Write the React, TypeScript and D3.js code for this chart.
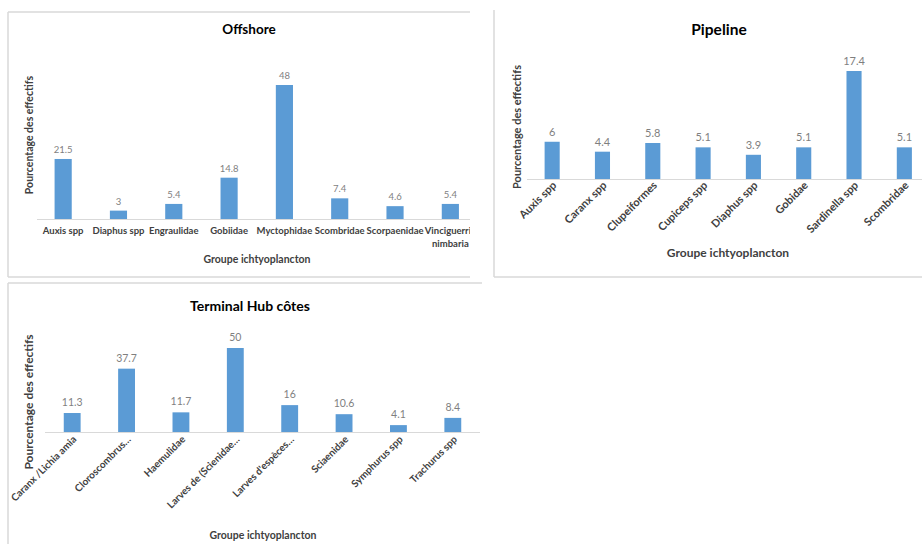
import React from "react";
import * as d3 from "d3";

const offshoreCategories = ["Auxis spp", "Diaphus spp", "Engraulidae", "Gobiidae", "Myctophidae", "Scombridae", "Scorpaenidae", "Vinciguerria\nnimbaria"];
const offshoreValues = [21.5, 3, 5.4, 14.8, 48, 7.4, 4.6, 5.4];

const pipelineCategories = ["Auxis spp", "Caranx spp", "Clupeiformes", "Cupiceps spp", "Diaphus spp", "Gobidae", "Sardinella spp", "Scombridae"];
const pipelineValues = [6, 4.4, 5.8, 5.1, 3.9, 5.1, 17.4, 5.1];

const terminalCategories = ["Caranx /Lichia amia", "Cloroscombrus…", "Haemulidae", "Larves de (Scienidae…", "Larves d'espèces…", "Sciaenidae", "Symphurus spp", "Trachurus spp"];
const terminalValues = [11.3, 37.7, 11.7, 50, 16, 10.6, 4.1, 8.4];

const titles = ["Offshore", "Pipeline", "Terminal Hub côtes"];
const yAxisTitle = "Pourcentage des effectifs";
const xAxisTitle = "Groupe ichtyoplancton";

const BAR = "#5B9BD5";
const FONT = "Lato, 'Open Sans', sans-serif";

type PanelProps = {
  id: string;
  title: string;
  cats: string[];
  vals: number[];
  clip: [number, number, number, number];
  borders: [number, number, number, number][];
  xRange: [number, number];
  barFrac: number;
  baseline: number;
  topY: number;
  axisEnd: number;
  axisStart: number;
  rotate: boolean;
  titleX: number;
  titleY: number;
  titleSize: number;
  yTitleX: number;
  yTitleY: number;
  yTitleSize: number;
  xTitleX: number;
  xTitleY: number;
  xTitleSize: number;
  catSize: number;
  catOffset: number;
  valSize: number;
  valOffset: number;
};

function Panel(p: PanelProps) {
  const pi = 1 - p.barFrac;
  const x = d3.scaleBand<string>().domain(p.cats).range(p.xRange).paddingInner(pi).paddingOuter(pi / 2);
  const maxV = d3.max(p.vals) as number;
  const y = d3.scaleLinear().domain([0, maxV]).range([p.baseline, p.topY]);
  return (
    <g>
      <defs>
        <clipPath id={p.id}>
          <rect x={p.clip[0]} y={p.clip[1]} width={p.clip[2]} height={p.clip[3]} />
        </clipPath>
      </defs>
      <g clipPath={`url(#${p.id})`}>
        <text x={p.titleX} y={p.titleY} textAnchor="middle" fontFamily={FONT} fontWeight="bold" fontSize={p.titleSize} fill="#000">{p.title}</text>
        <line x1={p.axisStart} x2={p.axisEnd} y1={p.baseline + 0.5} y2={p.baseline + 0.5} stroke="#d9d9d9" strokeWidth={1} />
        {p.cats.map((c, i) => (
          <rect key={c} x={x(c)} y={y(p.vals[i])} width={x.bandwidth()} height={p.baseline - y(p.vals[i])} fill={BAR} />
        ))}
        {p.cats.map((c, i) => (
          <text key={"v" + c} x={(x(c) as number) + x.bandwidth() / 2} y={y(p.vals[i]) - p.valOffset} textAnchor="middle" fontFamily={FONT} fontSize={p.valSize} fill="#7f7f7f">{p.vals[i]}</text>
        ))}
        {p.cats.map((c) => {
          const cx = (x(c) as number) + x.bandwidth() / 2;
          if (p.rotate) {
            const ax = cx + 5;
            const ay = p.baseline + p.catOffset;
            return (
              <text key={"c" + c} transform={`translate(${ax},${ay}) rotate(-45)`} textAnchor="end" fontFamily={FONT} fontWeight="bold" fontSize={p.catSize} fill="#404040">{c}</text>
            );
          }
          const lines = c.split("\n");
          return (
            <text key={"c" + c} x={cx} y={p.baseline + p.catOffset} textAnchor="middle" fontFamily={FONT} fontWeight="bold" fontSize={p.catSize} fill="#404040">
              {lines.map((l, k) => (
                <tspan key={k} x={cx} dy={k === 0 ? 0 : p.catSize * 1.35}>{l}</tspan>
              ))}
            </text>
          );
        })}
        <text transform={`translate(${p.yTitleX},${p.yTitleY}) rotate(-90)`} textAnchor="middle" fontFamily={FONT} fontWeight="bold" fontSize={p.yTitleSize} fill="#404040">{yAxisTitle}</text>
        <text x={p.xTitleX} y={p.xTitleY} textAnchor="middle" fontFamily={FONT} fontWeight="bold" fontSize={p.xTitleSize} fill="#404040">{xAxisTitle}</text>
      </g>
      {p.borders.map((b, i) => (
        <line key={i} x1={b[0]} y1={b[1]} x2={b[2]} y2={b[3]} stroke="#d9d9d9" strokeWidth={1.5} />
      ))}
    </g>
  );
}

export default function App() {
  return (
    <svg width={922} height={544} style={{ position: "absolute", left: 0, top: 0, background: "#fff" }}>
      <rect x={0} y={0} width={922} height={544} fill="#fff" />
      <Panel
        id="c1" title={titles[0]} cats={offshoreCategories} vals={offshoreValues}
        clip={[8, 12, 462, 265]}
        borders={[[8, 12, 470, 12], [8, 12, 8, 277], [8, 277, 470, 277]]}
        xRange={[35.5, 478]} barFrac={0.31} baseline={219} topY={85}
        axisStart={37} axisEnd={470} rotate={false}
        titleX={249} titleY={34} titleSize={13.5}
        yTitleX={33} yTitleY={135} yTitleSize={10.5}
        xTitleX={257} xTitleY={263} xTitleSize={10.5} catSize={9.5} catOffset={15}
        valSize={9.5} valOffset={6}
      />
      <Panel
        id="c2" title={titles[1]} cats={pipelineCategories} vals={pipelineValues}
        clip={[494, 10, 428, 267]}
        borders={[[494, 10, 494, 277], [494, 277, 922, 277]]}
        xRange={[527, 929.5]} barFrac={0.3} baseline={179} topY={71}
        axisStart={527} axisEnd={922} rotate={true}
        titleX={719} titleY={35} titleSize={15.5}
        yTitleX={521} yTitleY={127} yTitleSize={11}
        xTitleX={728} xTitleY={257} xTitleSize={12} catSize={11} catOffset={7}
        valSize={11} valOffset={6}
      />
      <Panel
        id="c3" title={titles[2]} cats={terminalCategories} vals={terminalValues}
        clip={[8, 283, 474, 261]}
        borders={[[8, 283, 482, 283], [8, 283, 8, 544]]}
        xRange={[45, 480]} barFrac={0.31} baseline={432} topY={348}
        axisStart={45} axisEnd={480} rotate={true}
        titleX={250} titleY={311} titleSize={14}
        yTitleX={33} yTitleY={402} yTitleSize={12}
        xTitleX={263} xTitleY={539} xTitleSize={10.5} catSize={10} catOffset={8}
        valSize={10.5} valOffset={7}
      />
    </svg>
  );
}
